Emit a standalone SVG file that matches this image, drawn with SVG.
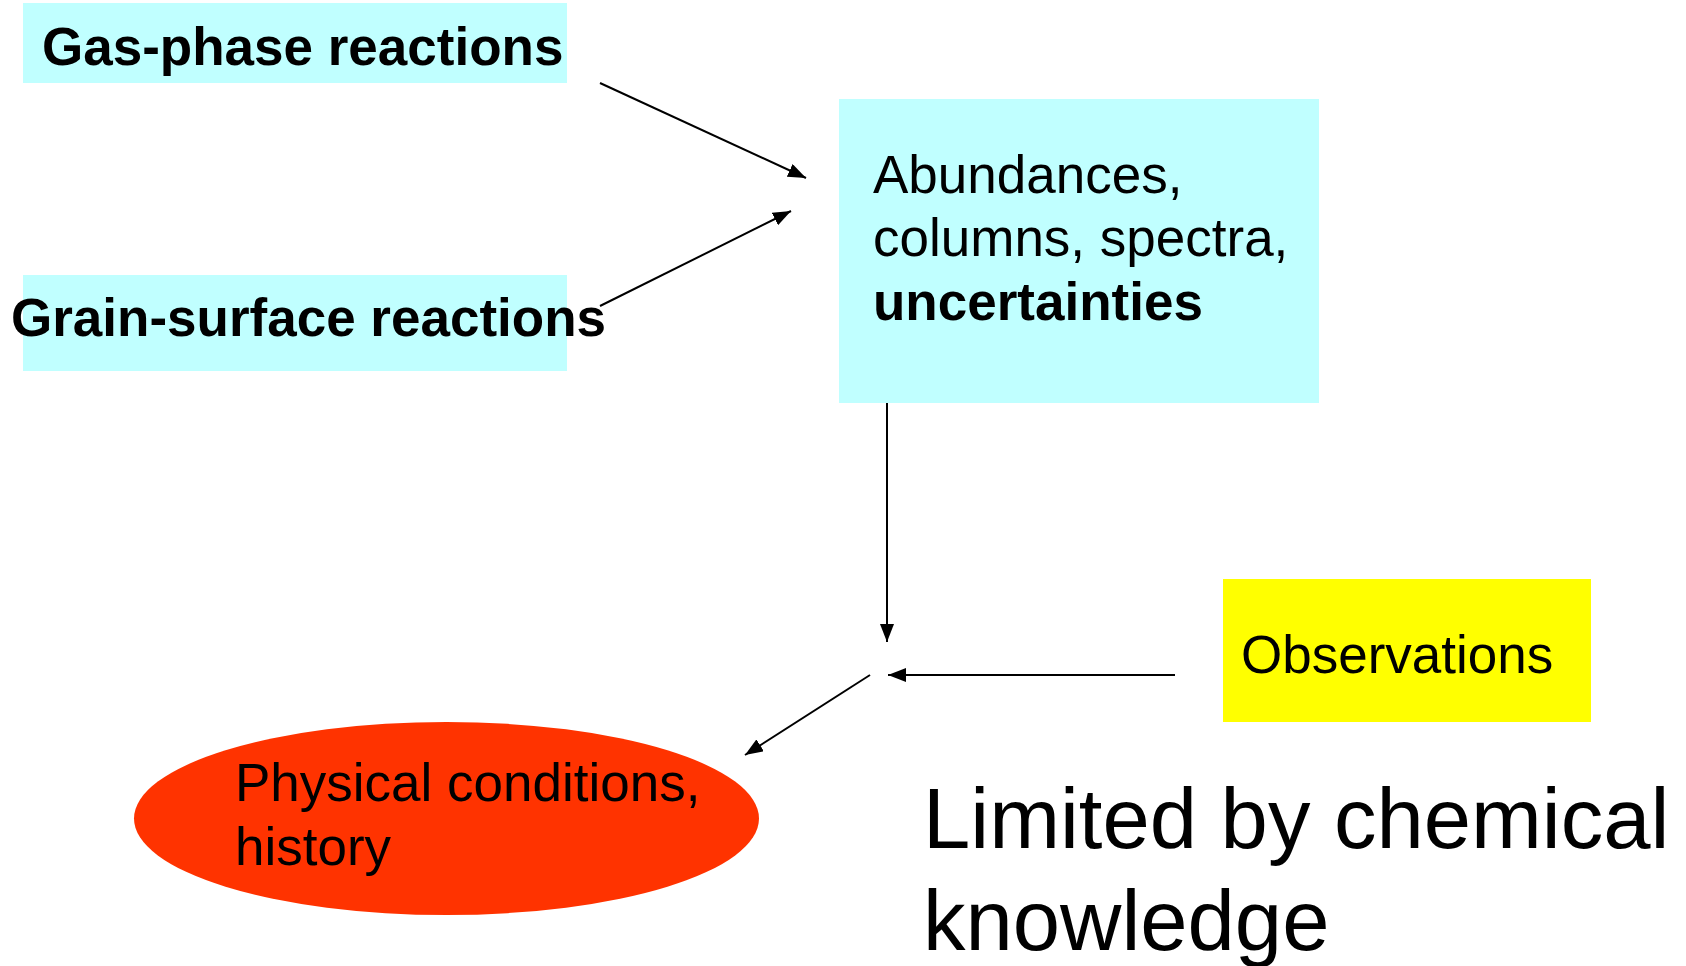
<svg xmlns="http://www.w3.org/2000/svg" width="1686" height="966" viewBox="0 0 1686 966">
<style>
text{font-family:"Liberation Sans",Arial,sans-serif;font-size:53px;fill:#000}
.b{font-weight:bold}
.cyan{fill:#C0FFFF}
.conn{stroke:#000;stroke-width:2;fill:none;marker-end:url(#ah)}
</style>
<defs>
<marker id="ah" viewBox="0 0 18 14" refX="18" refY="7" markerWidth="18" markerHeight="14" markerUnits="userSpaceOnUse" orient="auto">
<path d="M0,0 L18,7 L0,14 z" fill="#000"/>
</marker>
</defs>
<rect width="1686" height="966" fill="#fff"/>
<g id="gas">
<rect class="cyan" x="23" y="3" width="544" height="80"/>
<text class="b" x="42" y="65">Gas-phase reactions</text>
</g>
<g id="grain">
<rect class="cyan" x="23" y="275" width="544" height="96"/>
<text class="b" x="11" y="336">Grain-surface reactions</text>
</g>
<g id="abund">
<rect class="cyan" x="839" y="99" width="480" height="304"/>
<text x="873" y="193">Abundances,</text>
<text x="873" y="256">columns, spectra,</text>
<text class="b" x="873" y="320">uncertainties</text>
</g>
<g id="obs">
<rect x="1223" y="579" width="368" height="143" fill="#FFFF00"/>
<text x="1241" y="673">Observations</text>
</g>
<g id="phys">
<ellipse cx="446.5" cy="818.5" rx="312.5" ry="96.5" fill="#FF3300"/>
<text x="235" y="801">Physical conditions,</text>
<text x="235" y="865">history</text>
</g>
<g id="limited">
<text x="923" y="848" style="font-size:85px">Limited by chemical</text>
<text x="923" y="950" style="font-size:85px">knowledge</text>
</g>
<g id="connectors">
<line class="conn" x1="600" y1="83" x2="806" y2="178"/>
<line class="conn" x1="600" y1="306" x2="791" y2="211"/>
<line class="conn" x1="887" y1="403" x2="887" y2="642"/>
<line class="conn" x1="1175" y1="675" x2="888" y2="675"/>
<line class="conn" x1="870" y1="675" x2="745" y2="755"/>
</g>
</svg>
